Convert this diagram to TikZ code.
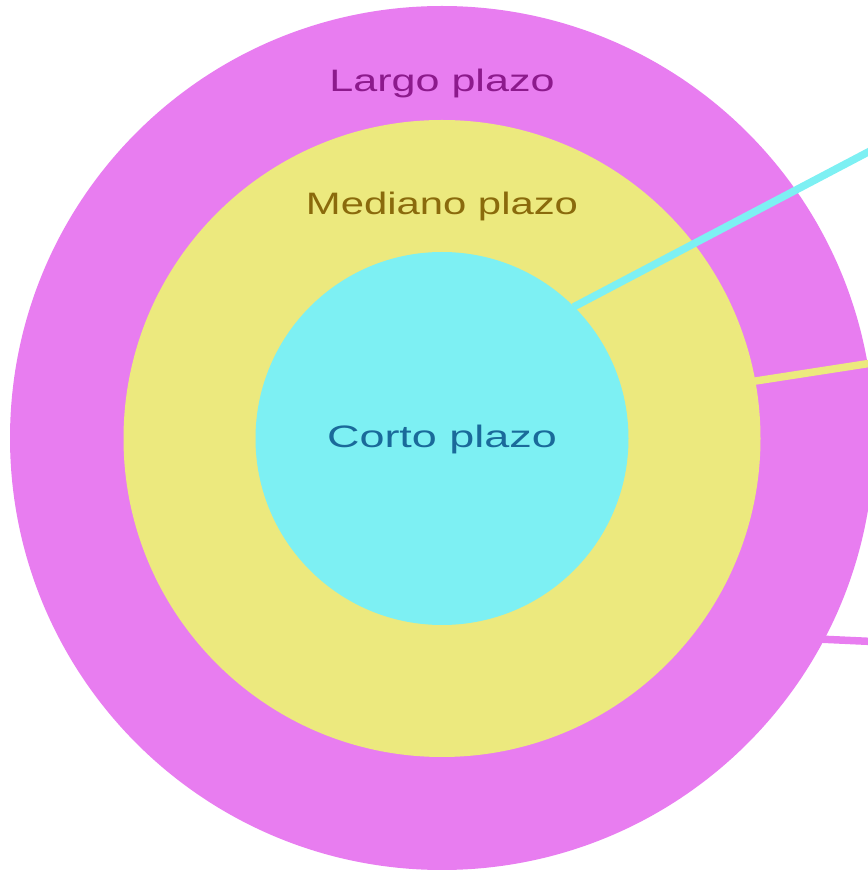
\documentclass[tikz,border=0pt]{standalone}
\usepackage{fontspec}
\setmainfont{Liberation Sans}
\definecolor{pinkc}{HTML}{E87DF0}
\definecolor{yellowc}{HTML}{ECE97E}
\definecolor{cyanc}{HTML}{7DF0F3}
\definecolor{pinktxt}{HTML}{8C1A8C}
\definecolor{yellowtxt}{HTML}{8A6A0C}
\definecolor{cyantxt}{HTML}{1A6A9A}
\tikzset{
  ring/.style={circle, inner sep=0pt, outer sep=0pt, draw=none},
  lbl/.style={anchor=base, inner sep=0pt, font=\fontsize{31}{36}\selectfont},
  ray/.style={line width=7.5pt, line cap=butt}
}
\begin{document}
\begin{tikzpicture}[x=1pt,y=1pt]
\useasboundingbox (0,0) rectangle (868,871);
\clip (0,0) rectangle (868,871);
\node[ring, fill=pinkc, minimum size=864pt] (outer) at (442,433) {};
\node[ring, fill=yellowc, minimum size=637pt] (middle) at (442,432.5) {};
\node[ring, fill=cyanc, minimum size=373pt] (inner) at (442,432.5) {};
\node[lbl, text=pinktxt] (tlargo) at (442,779) {\scalebox{1.39}[1]{Largo plazo}};
\node[lbl, text=yellowtxt] (tmed) at (442,656) {\scalebox{1.35}[1]{Mediano plazo}};
\node[lbl, text=cyantxt] (tcorto) at (442,423) {\scalebox{1.45}[1]{Corto plazo}};
\coordinate (scyan) at ([shift={(45:186)}]inner.center);
\coordinate (syellow) at ([shift={(10.4:317)}]middle.center);
\coordinate (spink) at ([shift={(-27.9:430)}]outer.center);
\coordinate (ecyan) at (872,721);
\coordinate (eyellow) at (872,508);
\coordinate (epink) at (872,229.5);
\draw[ray, cyanc] (scyan) -- (ecyan);
\draw[ray, yellowc] (syellow) -- (eyellow);
\draw[ray, pinkc] (spink) -- (epink);
\end{tikzpicture}
\end{document}
